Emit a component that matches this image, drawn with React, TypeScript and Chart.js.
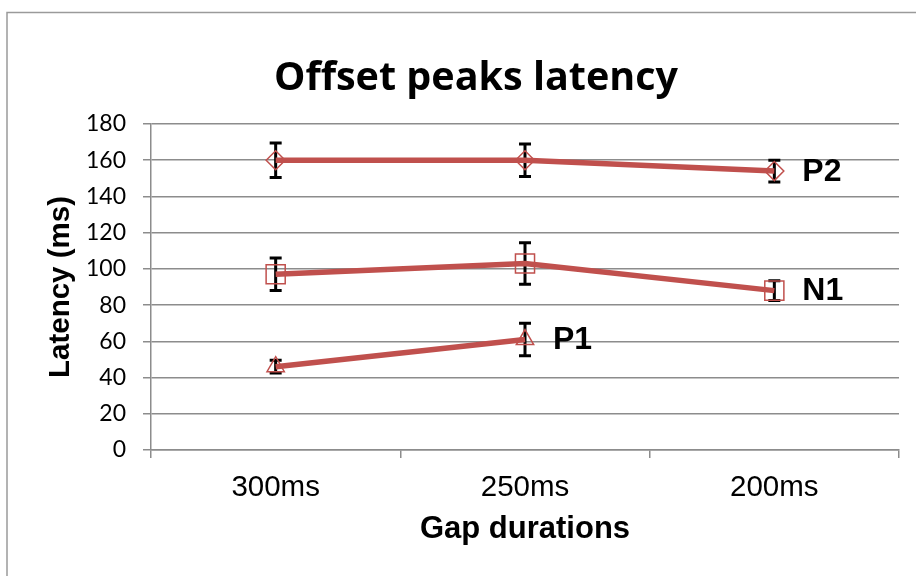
import React, { useEffect, useRef } from "react";
import Chart from "chart.js/auto";

const categories = ["300ms", "250ms", "200ms"];
const p2Values = [160, 160, 154];
const p2Errors = [9.5, 9, 6];
const n1Values = [97, 103, 88];
const n1Errors = [9, 11.5, 5.5];
const p1Values: (number | null)[] = [46, 61, null];
const p1Errors: (number | null)[] = [3.5, 9, null];
const seriesLabels = ["P2", "N1", "P1"];
const yMin = 0;
const yMax = 180;
const yStep = 20;
const chartTitle = "Offset peaks latency";
const xTitle = "Gap durations";
const yTitle = "Latency (ms)";

const RED = "#C0504D";
const GRID = "#8c8c8c";

const decorPlugin = {
  id: "decor",
  beforeDraw(chart: any) {
    const ctx = chart.ctx;
    ctx.save();
    ctx.fillStyle = "#ffffff";
    ctx.fillRect(0, 0, chart.width, chart.height);
    ctx.strokeStyle = "#9a9a9a";
    ctx.lineWidth = 1.5;
    ctx.beginPath();
    ctx.moveTo(7, chart.height);
    ctx.lineTo(7, 12.5);
    ctx.lineTo(chart.width, 12.5);
    ctx.stroke();
    ctx.fillStyle = "#000";
    ctx.font = "bold 39.5px 'Open Sans'";
    ctx.textAlign = "center";
    ctx.textBaseline = "alphabetic";
    ctx.fillText(chartTitle, 476, 90);
    ctx.restore();
  },
  beforeDatasetsDraw(chart: any) {
    const ctx = chart.ctx;
    const ys = chart.scales.y;
    chart.data.datasets.forEach((ds: any, i: number) => {
      const meta = chart.getDatasetMeta(i);
      meta.data.forEach((pt: any, j: number) => {
        const v = ds.data[j];
        const e = ds.errors[j];
        if (v == null || e == null) return;
        const x = pt.x;
        const top = ys.getPixelForValue(v + e);
        const bot = ys.getPixelForValue(v - e);
        ctx.save();
        ctx.strokeStyle = "#000";
        ctx.lineWidth = 3;
        ctx.beginPath();
        ctx.moveTo(x, top);
        ctx.lineTo(x, bot);
        ctx.moveTo(x - 6, top);
        ctx.lineTo(x + 6, top);
        ctx.moveTo(x - 6, bot);
        ctx.lineTo(x + 6, bot);
        ctx.stroke();
        ctx.restore();
      });
    });
  },
  afterDatasetsDraw(chart: any) {
    const ctx = chart.ctx;
    chart.data.datasets.forEach((ds: any, i: number) => {
      const meta = chart.getDatasetMeta(i);
      let last = -1;
      ds.data.forEach((v: any, j: number) => {
        if (v != null) last = j;
      });
      if (last < 0) return;
      const pt = meta.data[last];
      ctx.save();
      ctx.fillStyle = "#000";
      ctx.font = "bold 32px 'Liberation Sans'";
      ctx.textAlign = "left";
      ctx.textBaseline = "middle";
      ctx.fillText(seriesLabels[i], pt.x + 28, pt.y + 1);
      ctx.restore();
    });
  },
};

export default function App() {
  const ref = useRef<HTMLCanvasElement>(null);
  useEffect(() => {
    document.body.style.margin = "0";
    const canvas = ref.current!;
    const common = {
      borderColor: RED,
      borderWidth: 5.5,
      pointBorderColor: RED,
      pointBackgroundColor: "rgba(0,0,0,0)",
      pointBorderWidth: 1.5,
      tension: 0,
      fill: false,
    };
    const chart = new Chart(canvas, {
      type: "line",
      data: {
        labels: categories,
        datasets: [
          { ...common, label: seriesLabels[0], data: p2Values, errors: p2Errors, pointStyle: "rectRot", pointRadius: 9.5 } as any,
          { ...common, label: seriesLabels[1], data: n1Values, errors: n1Errors, pointStyle: "rect", pointRadius: 13.5 } as any,
          { ...common, label: seriesLabels[2], data: p1Values, errors: p1Errors, pointStyle: "triangle", pointRadius: 10 } as any,
        ],
      },
      options: {
        responsive: false,
        animation: false,
        events: [],
        layout: { padding: { left: 0, right: 17, top: 124, bottom: 0 } },
        plugins: {
          legend: { display: false },
          title: { display: false },
          tooltip: { enabled: false },
        },
        scales: {
          x: {
            offset: true,
            afterFit: (s: any) => {
              s.height = 126;
            },
            grid: {
              offset: true,
              drawOnChartArea: false,
              drawTicks: true,
              tickLength: 8,
              color: GRID,
              lineWidth: 1.5,
            },
            border: { display: true, color: GRID, width: 1.5 },
            ticks: {
              color: "#000",
              padding: 12,
              font: { family: "'Liberation Sans'", size: 29.5 },
            },
            title: {
              display: true,
              text: xTitle,
              color: "#000",
              font: { family: "'Liberation Sans'", size: 31, weight: "bold", lineHeight: 1 },
              padding: { top: 0, bottom: 31 },
            },
          },
          y: {
            min: yMin,
            max: yMax,
            afterFit: (s: any) => {
              s.width = 151;
            },
            ticks: {
              stepSize: yStep,
              color: "#000",
              padding: 17,
              font: { family: "Lato", size: 23 },
            },
            grid: {
              color: GRID,
              lineWidth: 1.5,
              tickLength: 8,
              drawTicks: true,
            },
            border: { display: true, color: GRID, width: 1.5 },
            title: {
              display: true,
              text: yTitle,
              color: "#000",
              font: { family: "'Liberation Sans'", size: 29.5, weight: "bold", lineHeight: 1 },
              padding: { top: 46, bottom: 0 },
            },
          },
        },
      },
      plugins: [decorPlugin],
    });
    return () => chart.destroy();
  }, []);
  return (
    <div>
      <canvas ref={ref} width={916} height={576} style={{ display: "block", width: 916, height: 576 }} />
    </div>
  );
}
